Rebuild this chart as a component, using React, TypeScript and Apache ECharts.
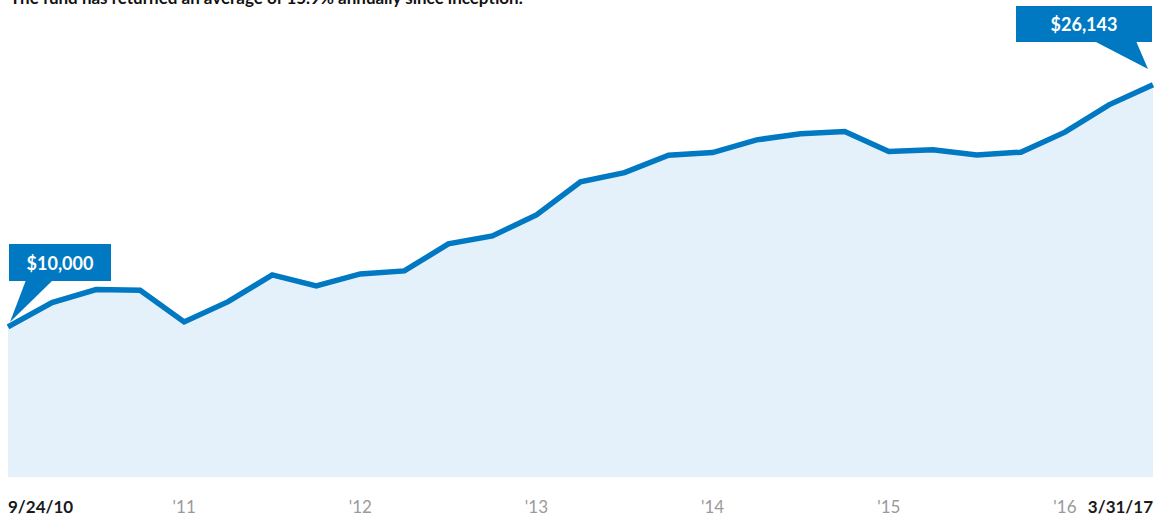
import React, { useEffect, useRef } from "react";
import * as echarts from "echarts";

const quarters = [
  "9/24/10", "12/31/10", "3/31/11", "6/30/11", "9/30/11", "12/31/11", "3/31/12",
  "6/30/12", "9/30/12", "12/31/12", "3/31/13", "6/30/13", "9/30/13", "12/31/13",
  "3/31/14", "6/30/14", "9/30/14", "12/31/14", "3/31/15", "6/30/15", "9/30/15",
  "12/31/15", "3/31/16", "6/30/16", "9/30/16", "12/31/16", "3/31/17",
];

const growthOf10k = [
  10000, 11620, 12488, 12448, 10333, 11687, 13468, 12734, 13535, 13735,
  15536, 16070, 17471, 19673, 20293, 21453, 21627, 22474, 22875, 23027,
  21693, 21807, 21473, 21653, 22987, 24809, 26143,
];

// index -> tick label
const tickLabels: Record<number, string> = {
  0: "9/24/10",
  4: "'11",
  8: "'12",
  12: "'13",
  16: "'14",
  20: "'15",
  24: "'16",
  26: "3/31/17",
};

const titleText = "The fund has returned an average of 15.9% annually since inception.";
const startLabel = "$10,000";
const endLabel = "$26,143";

const BLUE = "#0079c2";
const FONT = "Lato, 'Noto Sans', sans-serif";

export default function App() {
  const ref = useRef<HTMLDivElement>(null);
  useEffect(() => {
    if (!ref.current) return;
    const chart = echarts.init(ref.current, null, { renderer: "svg" });
    chart.setOption({
      animation: false,
      grid: { left: 8, right: 13, top: 27, bottom: 37, containLabel: false },
      xAxis: {
        type: "category",
        data: quarters,
        boundaryGap: false,
        axisLine: { show: false },
        axisTick: { show: false },
        splitLine: { show: false },
        axisLabel: {
          interval: (i: number) => tickLabels[i] !== undefined,
          formatter: (_v: string, i: number) => {
            const t = tickLabels[i];
            if (t === undefined) return "";
            return t.startsWith("'") ? `{yr|${t}}` : `{dt|${t}}`;
          },
          margin: 19,
          alignMinLabel: "left",
          alignMaxLabel: "right",
          rich: {
            yr: { fontFamily: FONT, fontSize: 17, color: "#9a9a9a" },
            dt: { fontFamily: FONT, fontSize: 17, fontWeight: "bold", color: "#1a1a1a" },
          },
        },
      },
      yAxis: {
        type: "value",
        min: -140,
        max: 30000,
        show: false,
        splitLine: { show: false },
      },
      series: [
        {
          type: "line",
          data: growthOf10k,
          symbol: "none",
          lineStyle: { color: BLUE, width: 5.5, join: "miter" },
          areaStyle: { color: "#e5f1fa", opacity: 1 },
          z: 2,
        },
      ],
      graphic: [
        {
          type: "text",
          left: 10,
          top: -11,
          style: {
            text: titleText,
            fontFamily: FONT,
            fontSize: 17,
            fontWeight: "bold",
            fill: "#111",
          },
        },
        {
          type: "polygon",
          shape: { points: [[26, 280], [53, 280], [10, 322]] },
          style: { fill: BLUE },
          z: 10,
        },
        {
          type: "rect",
          shape: { x: 9, y: 244, width: 102, height: 37 },
          style: { fill: BLUE },
          z: 10,
        },
        {
          type: "text",
          x: 60,
          y: 263,
          style: {
            text: startLabel,
            fontFamily: FONT,
            fontSize: 18,
            fontWeight: "bold",
            fill: "#fff",
            align: "center",
            verticalAlign: "middle",
          },
          z: 11,
        },
        {
          type: "polygon",
          shape: { points: [[1094, 41], [1136, 41], [1148, 69]] },
          style: { fill: BLUE },
          z: 10,
        },
        {
          type: "rect",
          shape: { x: 1016, y: 6, width: 136, height: 36 },
          style: { fill: BLUE },
          z: 10,
        },
        {
          type: "text",
          x: 1084,
          y: 24,
          style: {
            text: endLabel,
            fontFamily: FONT,
            fontSize: 18,
            fontWeight: "bold",
            fill: "#fff",
            align: "center",
            verticalAlign: "middle",
          },
          z: 11,
        },
      ],
    });
    return () => chart.dispose();
  }, []);
  return (
    <div
      ref={ref}
      style={{ position: "fixed", left: 0, top: 0, width: 1166, height: 516, background: "#fff" }}
    />
  );
}
